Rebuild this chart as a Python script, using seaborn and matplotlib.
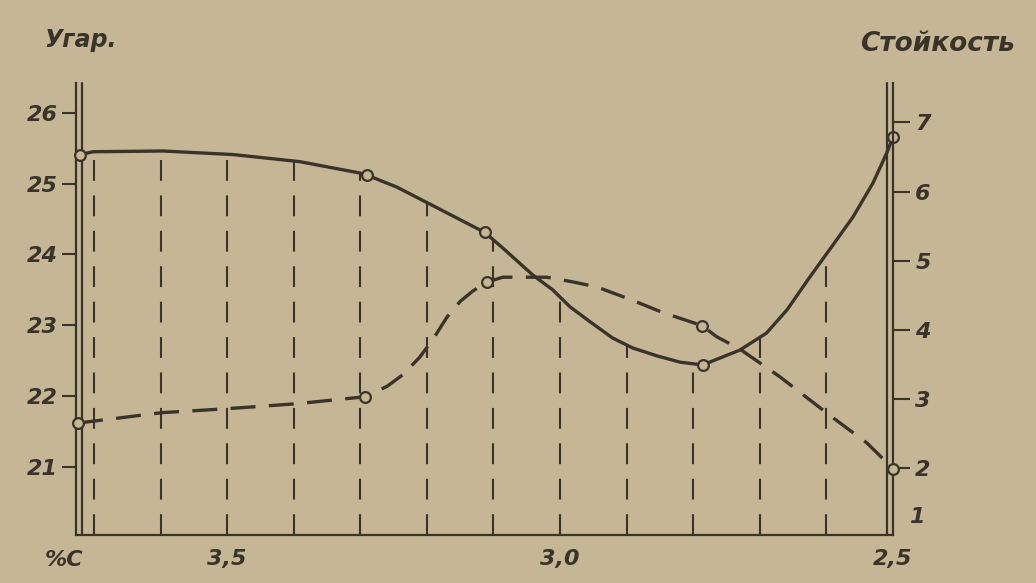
import matplotlib
matplotlib.use("Agg")
import matplotlib.pyplot as plt
import seaborn as sns
import pandas as pd
from matplotlib.transforms import ScaledTranslation

# ---- data ----
# solid curve (Угар, left axis)
ugar_c = [3.721, 3.701, 3.596, 3.491, 3.391, 3.301, 3.29, 3.245, 3.185, 3.113, 3.086,
          3.041, 3.011, 2.985, 2.955, 2.921, 2.891, 2.855, 2.82, 2.786, 2.73, 2.69,
          2.659, 2.625, 2.592, 2.56, 2.53, 2.509, 2.5]
ugar_v = [25.41, 25.45, 25.46, 25.41, 25.31, 25.15, 25.12, 24.95, 24.66, 24.31, 24.09,
          23.71, 23.50, 23.26, 23.05, 22.82, 22.68, 22.57, 22.48, 22.44, 22.65, 22.89,
          23.22, 23.68, 24.11, 24.53, 25.01, 25.44, 25.66]
ugar_pts_c = [3.721, 3.29, 3.113, 2.786, 2.5]
ugar_pts_v = [25.41, 25.12, 24.31, 22.44, 25.66]

# dashed curve (Стойкость, right axis)
st_c = [3.724, 3.598, 3.496, 3.395, 3.293, 3.26, 3.236, 3.211, 3.191, 3.17, 3.15,
        3.131, 3.11, 3.086, 3.06, 3.02, 2.985, 2.945, 2.895, 2.846, 2.787, 2.765,
        2.73, 2.67, 2.592, 2.539, 2.5]
st_v = [2.65, 2.80, 2.86, 2.93, 3.03, 3.18, 3.35, 3.60, 3.86, 4.18, 4.41,
        4.56, 4.69, 4.76, 4.76, 4.76, 4.70, 4.62, 4.44, 4.25, 4.06, 3.90,
        3.72, 3.32, 2.74, 2.36, 1.99]
st_pts_c = [3.724, 3.293, 3.11, 2.787, 2.5]
st_pts_v = [2.65, 3.03, 4.69, 4.06, 1.99]

# drop lines from the solid curve
grid_c = [3.7, 3.6, 3.5, 3.4, 3.3, 3.2, 3.1, 3.0, 2.9, 2.8, 2.7, 2.6]
grid_top = [25.45, 25.46, 25.41, 25.32, 25.13, 24.73, 24.20, 23.40, 22.72, 22.45, 22.85, 24.0]

x_ticks = [3.5, 3.0, 2.5]
x_labels = ["3,5", "3,0", "2,5"]
left_ticks = [21, 22, 23, 24, 25, 26]
right_ticks = [2, 3, 4, 5, 6, 7]

sns.set_theme(style="white")
plt.rcParams['font.family'] = ['DejaVu Sans']

BG = "#c5b795"
INK = "#3a332a"
W, H = 1036, 583

fig = plt.figure(figsize=(W / 100, H / 100), dpi=100, facecolor=BG)
ax = fig.add_axes([76 / W, 48 / H, (893 - 76) / W, (535 - 83) / H])
ax.set_facecolor(BG)
ax.set_xlim(3.727, 2.5)
ax.set_ylim(20.04, 26.42)
ax2 = ax.twinx()
ax2.set_ylim(1.03, 7.57)
ax2.patch.set_visible(False)

# vertical dashed drop lines
ax.vlines(grid_c, ymin=ax.get_ylim()[0], ymax=grid_top, colors=INK,
          linewidth=1.5, linestyles=(0, (10, 7)), zorder=1)

df_u = pd.DataFrame({"C": ugar_c, "V": ugar_v})
sns.lineplot(data=df_u, x="C", y="V", sort=False, estimator=None, ax=ax,
             color=INK, linewidth=2.4, zorder=3)
sns.scatterplot(x=ugar_pts_c, y=ugar_pts_v, ax=ax, s=60, color=BG,
                edgecolor=INK, linewidth=1.6, zorder=6, clip_on=False)

df_s = pd.DataFrame({"C": st_c, "V": st_v})
sns.lineplot(data=df_s, x="C", y="V", sort=False, estimator=None, ax=ax2,
             color=INK, linewidth=2.4, linestyle=(0, (7.5, 4)), zorder=3)
sns.scatterplot(x=st_pts_c, y=st_pts_v, ax=ax2, s=60, color=BG,
                edgecolor=INK, linewidth=1.6, zorder=6, clip_on=False)

ax.set_xlabel("")
ax.set_ylabel("")
ax2.set_ylabel("")

# spines
for a in (ax, ax2):
    a.spines["top"].set_visible(False)
    for s in ("left", "right", "bottom"):
        a.spines[s].set_color(INK)
        a.spines[s].set_linewidth(1.6)
ax.spines["right"].set_visible(False)
ax2.spines["left"].set_visible(False)
ax2.spines["bottom"].set_visible(False)

# double axis lines
off_l = ax.transAxes + ScaledTranslation(6 / 100, 0, fig.dpi_scale_trans)
off_r = ax.transAxes + ScaledTranslation(-6 / 100, 0, fig.dpi_scale_trans)
ax.plot([0, 0], [0, 1], transform=off_l, color=INK, lw=1.6, clip_on=False)
ax.plot([1, 1], [0, 1], transform=off_r, color=INK, lw=1.6, clip_on=False)

font = dict(fontsize=16, fontstyle="italic", fontweight="bold", color=INK)

ax.set_xticks(x_ticks)
ax.set_xticklabels(x_labels, **font)
ax.tick_params(axis="x", length=0, pad=10)
ax.set_yticks(left_ticks)
ax.set_yticklabels([str(t) for t in left_ticks], **font)
ax.tick_params(axis="y", direction="out", length=10, width=1.5, color=INK, pad=3, left=True)
ax2.set_yticks(right_ticks)
ax2.set_yticklabels([str(t) for t in right_ticks], **font)
ax2.tick_params(axis="y", direction="out", length=12, width=1.5, color=INK, pad=4, right=True)
ax2.text(1.029, 1.29, "1", transform=ax2.get_yaxis_transform(), ha="center", va="center", **font)

fig.text(80 / W, 1 - 40 / H, "Угар.", ha="center", va="center", fontsize=17,
         fontstyle="italic", fontweight="bold", color=INK)
fig.text(937 / W, 1 - 44 / H, "Стойкость", ha="center", va="center", fontsize=19,
         fontstyle="italic", fontweight="bold", color=INK)
fig.text(64 / W, 1 - 560 / H, "%C", ha="center", va="center", **font)

fig.savefig("out.png", dpi=100, facecolor=BG)
